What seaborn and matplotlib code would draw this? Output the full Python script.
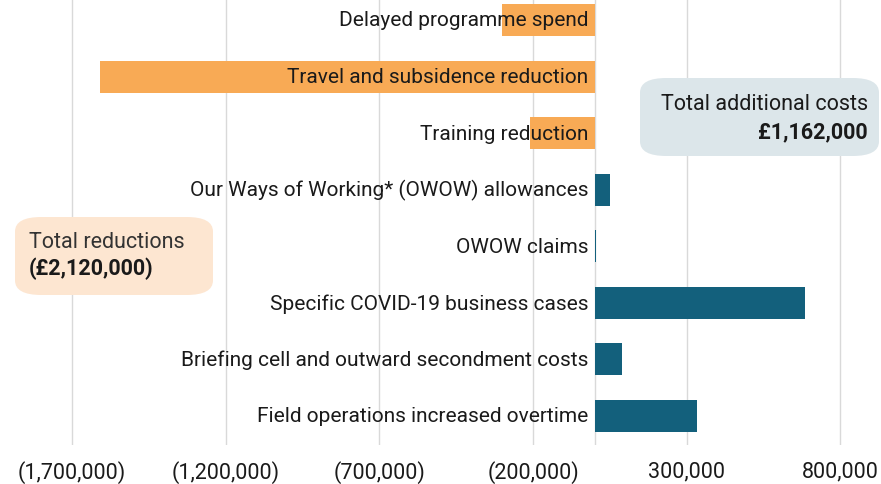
import matplotlib
matplotlib.use("Agg")
import matplotlib.pyplot as plt
import seaborn as sns
import pandas as pd
from matplotlib.patches import FancyBboxPatch

# data
items = ['Delayed programme spend',
         'Travel and subsidence reduction',
         'Training reduction',
         'Our Ways of Working* (OWOW) allowances',
         'OWOW claims',
         'Specific COVID-19 business cases',
         'Briefing cell and outward secondment costs',
         'Field operations increased overtime']
values = [-300000, -1610000, -210000, 50000, 5000, 685000, 90000, 332000]
kinds = ['reduction', 'reduction', 'reduction', 'cost', 'cost', 'cost', 'cost', 'cost']
tick_values = [-1700000, -1200000, -700000, -200000, 300000, 800000]
total_costs = '£1,162,000'
total_reductions = '(£2,120,000)'

df = pd.DataFrame({'item': items, 'value': values, 'kind': kinds})

sns.set_theme(style='white')
plt.rcParams['font.family'] = ['Roboto', 'DejaVu Sans']

W, H = 881, 485
fig = plt.figure(figsize=(W / 100, H / 100), dpi=100)
ax = fig.add_axes([0, 1 - 446 / H, 1, 446 / H])

sns.barplot(data=df, x='value', y='item', hue='kind', orient='h',
            palette={'reduction': '#f8aa55', 'cost': '#13607c'},
            saturation=1, linewidth=0, width=0.566, dodge=False,
            legend=False, ax=ax, zorder=2)

ax.set_xlim(-1934000, 932000)
ax.set_ylim(7.513, -0.371)
for t in tick_values + [0]:
    ax.axvline(t, color='#d9d9d9', lw=1, zorder=0)
ax.set_xticks(tick_values)
ax.set_xticklabels([f'({abs(v):,})' if v < 0 else f'{v:,}' for v in tick_values],
                   fontsize=15.5, color='#1a1a1a')
ax.tick_params(axis='x', length=0, pad=11)
ax.set_yticks([])
ax.set_xlabel('')
ax.set_ylabel('')
for s in ax.spines.values():
    s.set_visible(False)

for i, name in enumerate(items):
    ax.annotate(name, xy=(0, i), xytext=(-4.5, 0), textcoords='offset points',
                ha='right', va='center', fontsize=15, color='#1a1a1a', zorder=5)


def px_box(x0, y0, x1, y1, color):
    p = FancyBboxPatch((x0 / W, 1 - y1 / H), (x1 - x0) / W, (y1 - y0) / H,
                       boxstyle='round,pad=0,rounding_size=0.03',
                       transform=fig.transFigure, facecolor=color,
                       edgecolor='none', zorder=3)
    fig.patches.append(p)


px_box(640, 79, 879, 157, '#dce6ea')
fig.text(868 / W, 1 - 105 / H, 'Total additional costs', ha='right', va='center',
         fontsize=15.5, color='#1a1a1a')
fig.text(868 / W, 1 - 132 / H, total_costs, ha='right', va='center',
         fontsize=15.5, fontweight='bold', color='#1a1a1a')

px_box(15, 218, 213, 296, '#fde6d1')
fig.text(29 / W, 1 - 243 / H, 'Total reductions', ha='left', va='center',
         fontsize=15.5, color='#333333')
fig.text(29 / W, 1 - 269 / H, total_reductions, ha='left', va='center',
         fontsize=15.5, fontweight='bold', color='#1a1a1a')

fig.savefig('out.png', dpi=100)
